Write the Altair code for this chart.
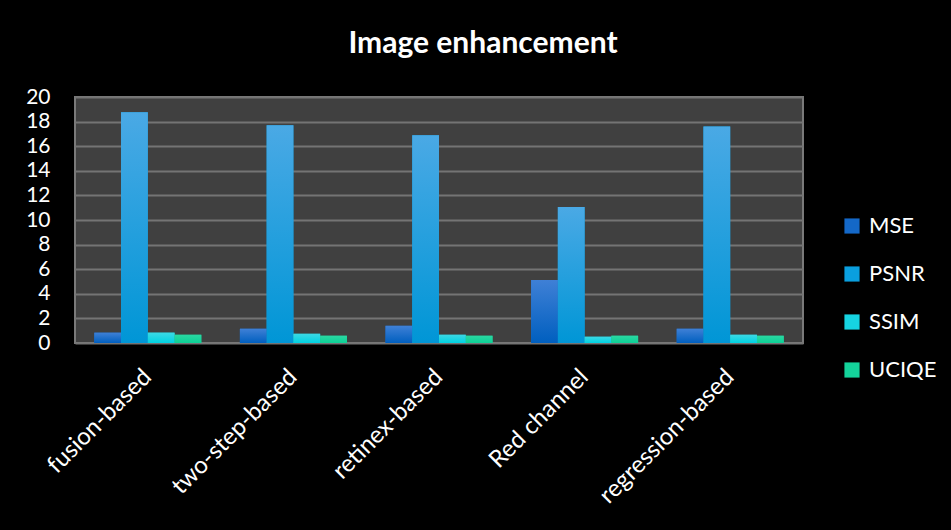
import altair as alt
import pandas as pd

categories = ["fusion-based", "two-step-based", "retinex-based", "Red channel", "regression-based"]
series = ["MSE", "PSNR", "SSIM", "UCIQE"]
mse = [0.84, 1.16, 1.40, 5.13, 1.16]
psnr = [18.76, 17.70, 16.90, 11.05, 17.60]
ssim = [0.84, 0.75, 0.67, 0.51, 0.67]
uciqe = [0.67, 0.59, 0.59, 0.59, 0.59]
colors = ["#1468c8", "#0a9fdf", "#16d4e2", "#14d39b"]
grad_top = ["#3f80d6", "#4aa9e5", "#3cd8e4", "#2ad8a2"]
grad_bottom = ["#005fbf", "#0096d6", "#00d2e2", "#0dd096"]
y_ticks = [0, 2, 4, 6, 8, 10, 12, 14, 16, 18, 20]

vals = {"MSE": mse, "PSNR": psnr, "SSIM": ssim, "UCIQE": uciqe}
rows = []
for s in series:
    for c, v in zip(categories, vals[s]):
        rows.append({"method": c, "metric": s, "value": v})
df = pd.DataFrame(rows)

FONT = "Lato"

x_enc = alt.X("method:N", sort=categories,
              scale=alt.Scale(paddingInner=0.265, paddingOuter=0.1325),
              axis=alt.Axis(title=None, labelAngle=-45, labelAlign="right", labelBaseline="middle",
                            labelFontSize=24, labelColor="white", labelFont=FONT,
                            ticks=False, domain=False, labelPadding=30))
xo_enc = alt.XOffset("metric:N", sort=series, scale=alt.Scale(domain=series))
y_enc = alt.Y("value:Q", scale=alt.Scale(domain=[0, 20], nice=False),
              axis=alt.Axis(title=None, values=y_ticks, labelFontSize=21, labelColor="white",
                            labelFont=FONT, ticks=False, domain=False, labelPadding=25,
                            gridColor="#747474", gridWidth=2))

base = alt.Chart(df).mark_bar().encode(
    x=x_enc, xOffset=xo_enc, y=y_enc,
    color=alt.Color("metric:N", scale=alt.Scale(domain=series, range=colors),
                    legend=alt.Legend(title=None, orient="none", legendX=766, legendY=118,
                                      symbolType="square", symbolSize=230, symbolStrokeWidth=0,
                                      labelFontSize=22, labelColor="white", labelFont=FONT,
                                      rowPadding=26, labelOffset=6)),
)

layers = [base]
for s, t, b in zip(series, grad_top, grad_bottom):
    grad = {"gradient": "linear", "x1": 0, "y1": 0, "x2": 0, "y2": 1,
            "stops": [{"offset": 0, "color": t}, {"offset": 1, "color": b}]}
    layers.append(
        alt.Chart(df).transform_filter(alt.datum.metric == s).mark_bar().encode(
            x=x_enc, xOffset=xo_enc, y=y_enc, fill=alt.value(grad)
        )
    )

chart = alt.layer(*layers).properties(
    width=728,
    height=246,
    background="black",
    padding={"left": 75, "top": 97, "right": 148, "bottom": 187},
    autosize=alt.AutoSizeParams(type="none"),
    title=alt.TitleParams("Image enhancement", fontSize=30, fontWeight="bold", color="white",
                          font=FONT, anchor="middle", offset=27, dx=44),
).configure_view(
    fill="#404040", stroke="#7a7a7a", strokeWidth=2
)

chart.save("out.html", embed_options={"renderer": "svg", "actions": False})
